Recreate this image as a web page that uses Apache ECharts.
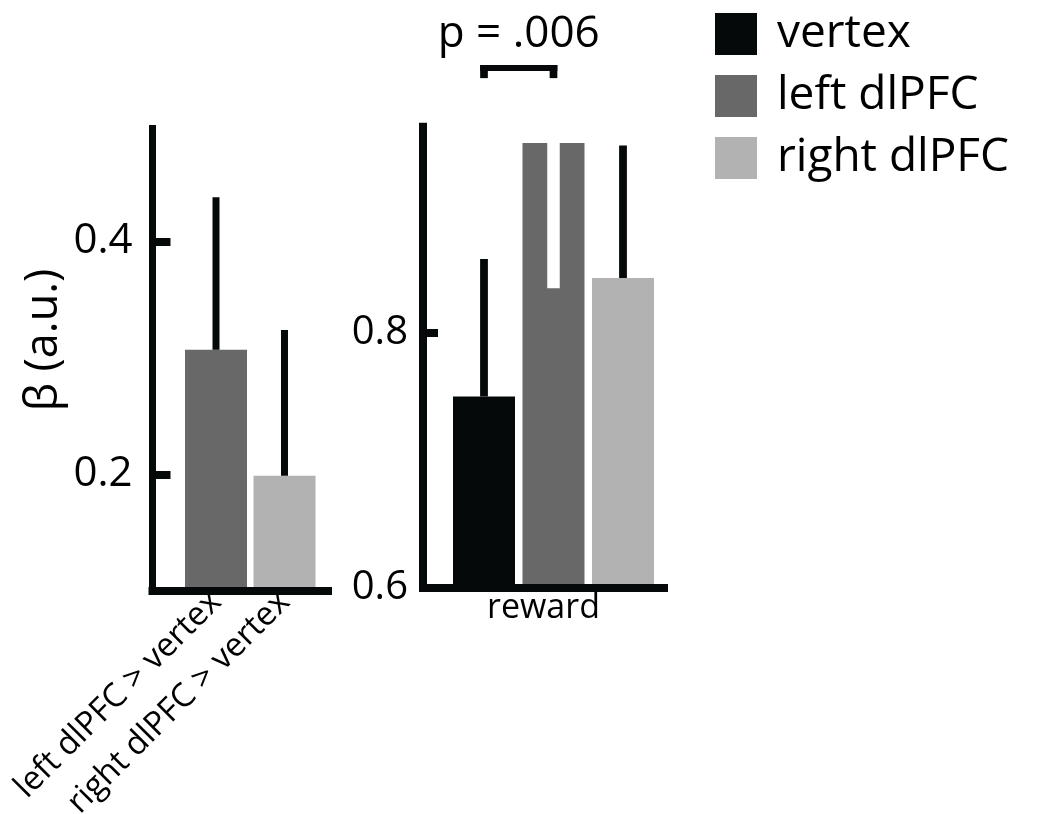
<!DOCTYPE html>
<html>
<head>
<meta charset="utf-8">
<script src="https://cdn.jsdelivr.net/npm/echarts@6/dist/echarts.min.js"></script>
<style>
  html, body { margin: 0; padding: 0; background: #fff; }
  #chart { width: 1038px; height: 814px; }
</style>
</head>
<body>
<div id="chart"></div>
<script>
// Difference panel: dlPFC stimulation relative to vertex
const diffCategories = ['left dlPFC > vertex', 'right dlPFC > vertex'];
const diffMeans = [0.307, 0.199];
const diffErrEnds = [0.438, 0.324];
const diffTicks = [0.2, 0.4];

// Reward panel: one bar per stimulation site
const rewardCategory = ['reward'];
const siteNames = ['vertex', 'left dlPFC', 'right dlPFC'];
const rewardMeans = [0.750, 0.949, 0.843];
const rewardErrEnds = [0.858, 0.835, 0.947];
const rewardTicks = [0.6, 0.8];

// Significance annotation between vertex and left dlPFC
const sigPair = [0, 1];
const sigLabel = 'p = .006';

const INK = '#060909';
const siteColors = ['#060909', '#686868', '#b2b2b2'];
const FONT = 'Open Sans';

const chart = echarts.init(document.getElementById('chart'), null, { renderer: 'canvas' });

// Panel geometry (frames hold the axes, inner grids hold the bars)
const L = { left: 152.5, top: 125, width: 175.5, height: 466 };
const LB = { left: 181.75, top: 125, width: 137, height: 466 };
const R = { left: 423, top: 122.7, width: 241, height: 464.8 };
const RB = { left: 449.25, top: 122.7, width: 208.5, height: 464.8 };

function makeGrid(box) {
  return Object.assign({ containLabel: false, outerBoundsMode: 'none' }, box);
}

function errorRenderer(blackW, whiteW) {
  return function (params, api) {
    const i = api.value(0);
    const m = api.value(1);
    const e = api.value(2);
    const a = api.coord([i, m]);
    const b = api.coord([i, e]);
    const down = e < m;
    const w = down ? whiteW : blackW;
    return {
      type: 'rect',
      shape: { x: a[0] - w / 2, y: Math.min(a[1], b[1]), width: w, height: Math.abs(a[1] - b[1]) },
      style: { fill: down ? '#ffffff' : INK }
    };
  };
}

function frameY(min, max, ticks, lineW, tickLen, labelMargin, labelSize, extra) {
  return Object.assign({
    type: 'value', min: min, max: max,
    axisLine: { show: true, lineStyle: { color: INK, width: lineW, cap: 'butt' } },
    axisTick: { show: true, inside: true, length: tickLen, customValues: ticks,
                lineStyle: { color: INK, width: 8 } },
    axisLabel: { show: true, customValues: ticks, margin: labelMargin,
                 formatter: v => v.toFixed(1),
                 color: '#000', fontFamily: FONT, fontSize: labelSize },
    splitLine: { show: false }
  }, extra || {});
}

function hiddenY(min, max) {
  return { type: 'value', min: min, max: max, show: false, splitLine: { show: false } };
}

const option = {
  backgroundColor: '#ffffff',
  animation: false,
  grid: [makeGrid(L), makeGrid(LB), makeGrid(R), makeGrid(RB)],
  legend: {
    data: siteNames,
    orient: 'vertical',
    left: 715, top: 11,
    padding: 0,
    itemWidth: 42, itemHeight: 42, itemGap: 16,
    icon: 'rect',
    selectedMode: false,
    textStyle: { color: '#000', fontFamily: FONT, fontSize: 46, lineHeight: 42, padding: [0, 0, 0, 15] }
  },
  xAxis: [
    { gridIndex: 0, type: 'category', data: [''], z: 10,
      axisLine: { lineStyle: { color: INK, width: 8, cap: 'square' } },
      axisTick: { show: false }, axisLabel: { show: false } },
    { gridIndex: 1, type: 'category', data: diffCategories,
      axisLine: { show: false }, axisTick: { show: false },
      axisLabel: { show: true, rotate: 45, interval: 0, margin: 6,
                   color: '#000', fontFamily: FONT, fontSize: 33 } },
    { gridIndex: 2, type: 'category', data: rewardCategory, z: 10,
      axisLine: { lineStyle: { color: INK, width: 8, cap: 'square' } },
      axisTick: { show: false },
      axisLabel: { show: true, margin: 4, color: '#000', fontFamily: FONT, fontSize: 34 } },
    { gridIndex: 3, type: 'category', data: siteNames, show: false }
  ],
  yAxis: [
    frameY(0.1, 0.5, diffTicks, 7, 18, 20, 42, {
      gridIndex: 0,
      name: 'β (a.u.)', nameLocation: 'middle', nameGap: 86, nameRotate: 90,
      nameTextStyle: { color: '#000', fontFamily: FONT, fontSize: 45, padding: [0, 0, 0, 36] }
    }),
    Object.assign(hiddenY(0.1, 0.5), { gridIndex: 1 }),
    frameY(0.6, 0.965, rewardTicks, 8, 15, 15, 40, { gridIndex: 2 }),
    Object.assign(hiddenY(0.6, 0.965), { gridIndex: 3 })
  ],
  series: [
    {
      type: 'bar', xAxisIndex: 1, yAxisIndex: 1, barWidth: 62,
      data: diffMeans.map((v, i) => ({ value: v, itemStyle: { color: siteColors[i + 1] } })),
      z: 2
    },
    ...siteNames.map((name, k) => ({
      name: name, type: 'bar', xAxisIndex: 3, yAxisIndex: 3,
      barWidth: 62, barGap: '-100%',
      itemStyle: { color: siteColors[k] },
      data: rewardMeans.map((v, i) => (i === k ? v : '-')),
      z: 2
    })),
    {
      type: 'custom', xAxisIndex: 1, yAxisIndex: 1, z: 5,
      renderItem: errorRenderer(7, 12),
      data: diffMeans.map((m, i) => [i, m, diffErrEnds[i]])
    },
    {
      type: 'custom', xAxisIndex: 3, yAxisIndex: 3, z: 5,
      renderItem: errorRenderer(7.8, 12.5),
      data: rewardMeans.map((m, i) => [i, m, rewardErrEnds[i]])
    },
    {
      // bracket and p-value above the reward bars
      type: 'custom', xAxisIndex: 3, yAxisIndex: 3, z: 5, clip: false,
      renderItem: function (params, api) {
        const a = api.coord([api.value(0), 1.0]);
        const b = api.coord([api.value(1), 1.0]);
        const top = api.coord([api.value(0), 1.0103])[1];
        const bar = api.coord([api.value(0), 1.0056])[1];
        const textY = api.coord([api.value(0), 1.0345])[1];
        const w = 7.7;
        const x0 = a[0] - w / 2, x1 = b[0] + w / 2;
        return {
          type: 'group',
          children: [
            { type: 'rect', shape: { x: x0, y: top, width: x1 - x0, height: bar - top }, style: { fill: INK } },
            { type: 'rect', shape: { x: x0, y: top, width: w, height: a[1] - top }, style: { fill: INK } },
            { type: 'rect', shape: { x: x1 - w, y: top, width: w, height: a[1] - top }, style: { fill: INK } },
            { type: 'text', x: (a[0] + b[0]) / 2, y: textY,
              style: { text: sigLabel, fill: '#000', font: '44px "' + FONT + '"',
                       textAlign: 'center', textVerticalAlign: 'middle' } }
          ]
        };
      },
      data: [sigPair]
    }
  ]
};

chart.setOption(option);
</script>
</body>
</html>
